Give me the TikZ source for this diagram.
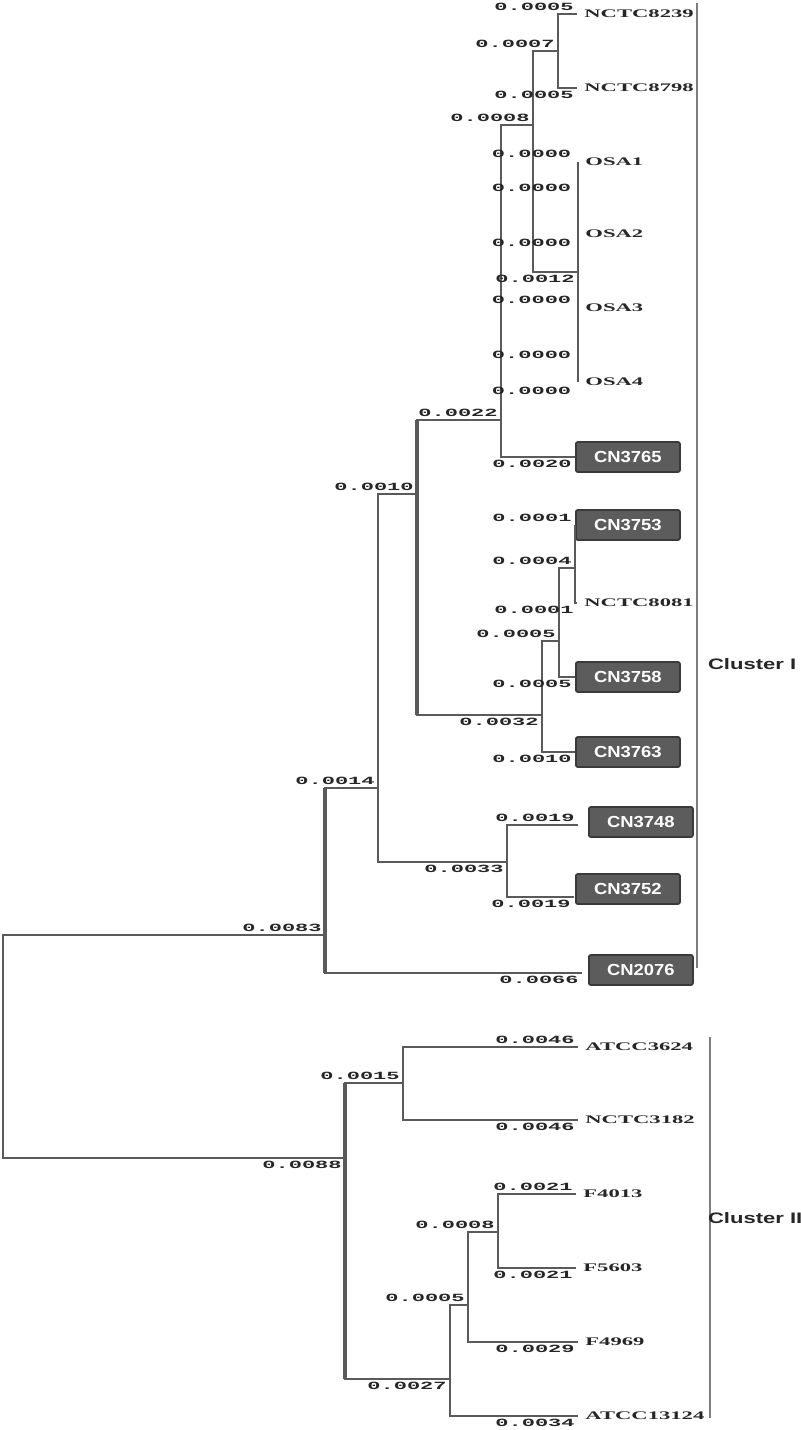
\documentclass[tikz,border=0pt]{standalone}
\usepackage{fontspec}
\usepackage{xcolor}
\usetikzlibrary{positioning}

\newfontfamily\lenfont[FakeStretch=2.0]{Liberation Mono}
\newfontfamily\leaffont[FakeStretch=1.95]{Liberation Serif}
\newfontfamily\boxfont[FakeStretch=1.15]{Liberation Sans}
\newfontfamily\clusfont[FakeStretch=1.45]{Liberation Sans}

\definecolor{brgray}{HTML}{5A5A5A}
\definecolor{lentext}{HTML}{262626}
\definecolor{boxfill}{HTML}{5C5C5C}
\definecolor{boxdraw}{HTML}{3A3A3A}
\definecolor{bargray}{HTML}{7E7E7E}

\begin{document}
\begin{tikzpicture}[
    x=0.5pt, y=-0.5pt,
    br/.style={draw=brgray, line width=0.95pt},
    trunk/.style={br, line width=1.6pt},
    len/.style={
        font=\lenfont\bfseries\fontsize{5.5}{6}\selectfont,
        text=lentext,
        inner sep=1.2pt
    },
    leaf/.style={
        anchor=west,
        font=\leaffont\bfseries\fontsize{5.8}{6}\selectfont,
        text=lentext,
        inner sep=3.5pt
    },
    strain/.style={
        anchor=west,
        draw=boxdraw,
        fill=boxfill,
        line width=0.9pt,
        rounded corners=1pt,
        minimum width=52pt,
        minimum height=15pt,
        inner sep=0pt,
        text=white,
        font=\boxfont\bfseries\fontsize{8}{9}\selectfont
    },
    bar/.style={draw=bargray, line width=1.2pt},
    clus/.style={
        anchor=west,
        text=black!85,
        font=\clusfont\bfseries\fontsize{7.6}{8}\selectfont
    }
]
\useasboundingbox (0,0) rectangle (800,1430);

% internal nodes
\coordinate (R) at (3,1046);
\coordinate (A) at (325,935);
\coordinate (B) at (378,788);
\coordinate (C) at (417,494);
\coordinate (H) at (501,420);
\coordinate (I) at (533,125);
\coordinate (J) at (558,51);
\coordinate (K) at (578,272);
\coordinate (D) at (542,715);
\coordinate (E) at (559,641);
\coordinate (F) at (575,568);
\coordinate (G) at (507,862);
\coordinate (L) at (345,1158);
\coordinate (M) at (403,1083);
\coordinate (N) at (450,1379);
\coordinate (O) at (468,1305);
\coordinate (P) at (498,1232);

% leaves
\node[leaf] (nctc8239) at (577,14) {NCTC8239};
\node[leaf] (nctc8798) at (577,88) {NCTC8798};
\node[leaf, inner sep=0pt] (osa1) at (578,162) {\hspace{3.5pt}OSA1};
\node[leaf, inner sep=0pt] (osa2) at (578,234) {\hspace{3.5pt}OSA2};
\node[leaf, inner sep=0pt] (osa3) at (578,308) {\hspace{3.5pt}OSA3};
\node[leaf, inner sep=0pt] (osa4) at (578,382) {\hspace{3.5pt}OSA4};
\node[strain] (cn3765) at (575,457) {CN3765};
\node[strain] (cn3753) at (575,525) {CN3753};
\node[leaf] (nctc8081) at (577,603) {NCTC8081};
\node[strain] (cn3758) at (575,677) {CN3758};
\node[strain] (cn3763) at (575,752) {CN3763};
\node[strain] (cn3748) at (588,822) {CN3748};
\node[strain] (cn3752) at (575,889) {CN3752};
\node[strain] (cn2076) at (588,970) {CN2076};

\node[leaf] (atcc3624) at (578,1047) {ATCC3624};
\node[leaf] (nctc3182) at (578,1120) {NCTC3182};
\node[leaf] (f4013) at (576,1194) {F4013};
\node[leaf] (f5603) at (576,1268) {F5603};
\node[leaf] (f4969) at (578,1342) {F4969};
\node[leaf] (atcc13124) at (578,1416) {ATCC13124};

% cluster I
\draw[br] (R) |- (A) node[len, above left] {0.0083};
\draw[br] (R) |- (L) node[len, below left] {0.0088};
\draw[br] (A) |- (B) node[len, above left] {0.0014};
\draw[br] (A) |- ([xshift=-3pt]cn2076.west |- 0,973) node[len, below left] {0.0066};
\draw[trunk] (A |- B) -- (A |- 0,973);
\draw[br] (B) |- (C) node[len, above left] {0.0010};
\draw[br] (B) |- (G) node[len, below left] {0.0033};
\draw[br] (C) |- (H) node[len, above left] {0.0022};
\draw[br] (C) |- (D) node[len, below left] {0.0032};
\draw[trunk] (C |- H) -- (C |- D);
\draw[br] (H) |- (I) node[len, above left] {0.0008};
\draw[br] (H) |- (cn3765.west) node[len, below left] {0.0020};
\draw[br] (I) |- (J) node[len, above left] {0.0007};
\draw[br] (I) |- (K) node[len, below left] {0.0012};
\draw[br] (J) |- (nctc8239.west) node[len, above left] {0.0005};
\draw[br] (J) |- (nctc8798.west) node[len, below left] {0.0005};
\draw[br] (osa1.west) -- (osa4.west);
\foreach \yy in {154,188,243,300,355,391}
    \node[len, anchor=east] at (574,\yy) {0.0000};
\draw[br] (D) |- (E) node[len, above left] {0.0005};
\draw[br] (D) |- (cn3763.west) node[len, below left] {0.0010};
\draw[br] (E) |- (F) node[len, above left] {0.0004};
\draw[br] (E) |- (cn3758.west) node[len, below left] {0.0005};
\draw[br] (F) |- (cn3753.west) node[len, above left] {0.0001};
\draw[br] (F) |- (nctc8081.west) node[len, below left] {0.0001};
\draw[br] (G) |- ([xshift=-5pt]cn3748.west |- 0,825) node[len, above left] {0.0019};
\draw[br] (G) |- ([xshift=-0.5pt]cn3752.west |- 0,897) node[len, below left] {0.0019};

% cluster II
\draw[br] (L) |- (M) node[len, above left] {0.0015};
\draw[br] (L) |- (N) node[len, below left] {0.0027};
\draw[trunk] (L |- M) -- (L |- N);
\draw[br] (M) |- (atcc3624.west) node[len, above left] {0.0046};
\draw[br] (M) |- (nctc3182.west) node[len, below left] {0.0046};
\draw[br] (N) |- (O) node[len, above left] {0.0005};
\draw[br] (N) |- (atcc13124.west) node[len, below left] {0.0034};
\draw[br] (O) |- (P) node[len, above left] {0.0008};
\draw[br] (O) |- (f4969.west) node[len, below left] {0.0029};
\draw[br] (P) |- (f4013.west) node[len, above left] {0.0021};
\draw[br] (P) |- (f5603.west) node[len, below left] {0.0021};

% cluster bars
\coordinate (c1top) at (697,3);
\coordinate (c1bot) at (697,968);
\coordinate (c2top) at (710,1037);
\coordinate (c2bot) at (710,1418);
\draw[bar] (c1top) -- (c1bot);
\draw[bar] (c2top) -- (c2bot);
\node[clus] (clusI) at (701,664) {Cluster I};
\node[clus] (clusII) at (701,1218) {Cluster II};

\end{tikzpicture}
\end{document}
